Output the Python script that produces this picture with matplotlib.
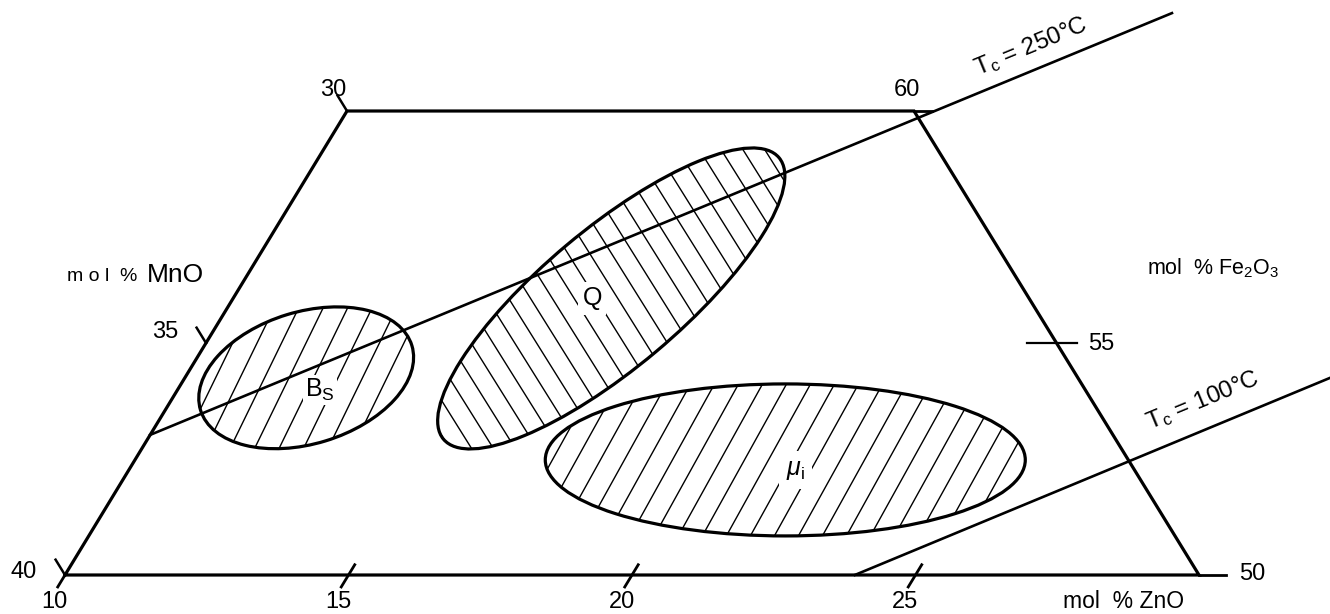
"""Mn-Zn ferrite composition diagram (Fe2O3 / MnO / ZnO)"""

import numpy as np
import matplotlib
matplotlib.use('Agg')
import matplotlib.pyplot as plt
from matplotlib.patches import Ellipse

plt.rcParams['font.family'] = ['Liberation Sans', 'DejaVu Sans']
plt.rcParams['mathtext.fontset'] = 'custom'
plt.rcParams['mathtext.rm'] = 'Liberation Sans'
plt.rcParams['mathtext.it'] = 'Liberation Sans:italic'

# --- data (mol %) ---
zno_ticks = [10, 15, 20, 25]
mno_ticks = [40, 35, 30]
fe_ticks = [50, 55, 60]

# frame corners as (ZnO, Fe2O3)
frame_zno = [10, 10, 20, 30, 10]
frame_fe = [50, 60, 60, 50, 50]

# iso-Curie lines
tc_labels = ['250', '100']
tc_zno_start = [10.0, 23.93]
tc_fe_start = [53.02, 50.0]
tc_zno_end = [23.50, 30.20]
tc_fe_end = [62.11, 54.25]

# optimum regions
region_labels = [r'B$_\mathrm{S}$', 'Q', r'$\mu_\mathrm{i}$']
region_zno = [12.14, 16.67, 21.47]
region_fe = [54.25, 55.96, 52.48]


# map composition -> figure pixels
X0, Y0 = 65.0, 575.0
SX, SXF, SY = 56.7, 28.2, 46.4
TICK_FS = 17


def to_xy(zno, fe):
    zno = np.asarray(zno, dtype=float)
    fe = np.asarray(fe, dtype=float)
    x = X0 + (zno - 10) * SX + (fe - 50) * SXF
    y = Y0 - (fe - 50) * SY
    return x, y


def unit(v):
    v = np.asarray(v, dtype=float)
    return v / np.hypot(*v)


ZNO_DIR = unit((SXF, -SY))          # constant ZnO, pointing up
MNO_DIR = unit((-(SX - SXF), -SY))  # constant MnO, pointing up-left


def hatched_ellipse(ax, cx, cy, w, h, angle, hatch_angle, spacing):
    ell = Ellipse((cx, cy), w, h, angle=-angle, fill=False,
                  edgecolor='black', linewidth=2.3, zorder=3)
    ax.add_patch(ell)
    r = max(w, h) / 2 + 5
    phi = np.radians(hatch_angle)
    d = np.array([np.cos(phi), -np.sin(phi)])
    n = np.array([np.sin(phi), np.cos(phi)])
    kmax = int(r / spacing) + 1
    for k in range(-kmax, kmax + 1):
        p = np.array([cx, cy]) + (k + 0.3) * spacing * n
        ln, = ax.plot([p[0] - r * d[0], p[0] + r * d[0]],
                      [p[1] - r * d[1], p[1] + r * d[1]],
                      color='black', linewidth=1.0, zorder=2)
        ln.set_clip_path(ell)


fig = plt.figure(figsize=(13.3, 6.14), dpi=100)
ax = fig.add_axes([0, 0, 1, 1])
ax.set_xlim(0, 1330)
ax.set_ylim(614, 0)
ax.axis('off')

# frame
fx, fy = to_xy(frame_zno, frame_fe)
ax.plot(fx, fy, color='black', linewidth=2.3, solid_joinstyle='miter', zorder=3)

# ZnO ticks along bottom
for z in zno_ticks:
    x, y = to_xy(z, 50)
    up = 0 if z == 10 else 12
    ax.plot([x - 14 * ZNO_DIR[0], x + up * ZNO_DIR[0]],
            [y - 14 * ZNO_DIR[1], y + up * ZNO_DIR[1]],
            color='black', linewidth=2.0)
    ax.text(x - 14 * ZNO_DIR[0] - 3, y + 16, str(z), ha='center', va='top',
            fontsize=TICK_FS)

# MnO ticks along left edge
for m in mno_ticks:
    fe = 90 - m
    x, y = to_xy(10, fe)
    L = 18
    ax.plot([x, x + L * MNO_DIR[0]], [y, y + L * MNO_DIR[1]],
            color='black', linewidth=1.8)
    if m == 40:
        ax.text(x - 28, y - 3, str(m), ha='right', va='center', fontsize=TICK_FS)
    elif m == 30:
        ax.text(x - 14, y - 21, str(m), ha='center', va='center', fontsize=TICK_FS)
    else:
        ax.text(x - 28, y - 11, str(m), ha='right', va='center', fontsize=TICK_FS)

# Fe2O3 ticks along right edge (MnO = 20)
for f in fe_ticks:
    x, y = to_xy(80 - f, f)
    if f == 55:
        ax.plot([x - 30, x + 20], [y, y], color='black', linewidth=1.6)
        ax.text(x + 32, y + 1, str(f), ha='left', va='center', fontsize=TICK_FS)
    elif f == 50:
        ax.plot([x, x + 27], [y, y], color='black', linewidth=2.0)
        ax.text(x + 40, y - 1, str(f), ha='left', va='center', fontsize=TICK_FS)
    else:
        ax.plot([x, x + 18], [y, y], color='black', linewidth=2.0)
        ax.text(x - 7, y - 21, str(f), ha='center', va='center', fontsize=TICK_FS)

# iso-Curie lines
for lab, z0, f0, z1, f1 in zip(tc_labels, tc_zno_start, tc_fe_start,
                               tc_zno_end, tc_fe_end):
    (x0, x1), (y0, y1) = to_xy([z0, z1], [f0, f1])
    ax.plot([x0, x1], [y0, y1], color='black', linewidth=1.9, zorder=3)
    ang = np.degrees(np.arctan2(-(y1 - y0), x1 - x0))
    if lab == '250':
        tx, ty = 978, 76
    else:
        tx, ty = 1150, 430
    ax.text(tx, ty, r'T$_\mathrm{c}$ = ' + lab + '°C', rotation=ang,
            rotation_mode='anchor', ha='left', va='baseline', fontsize=17.5)

# hatched regions
rx, ry = to_xy(region_zno, region_fe)
shapes = [(221, 132, 17, 64, 22.0),
          (438, 139, 40, 122, 18.5),
          (480, 152, 0, 61, 21.0)]
for (cx, cy), (w, h, a, ha_, sp) in zip(zip(rx, ry), shapes):
    hatched_ellipse(ax, cx, cy, w, h, a, ha_, sp)

offsets = [(14, 12), (-19, 0), (10, 10)]
pads = [0.15, 0.3, 0.5]
for lab, (cx, cy), (dx, dy), pad in zip(region_labels, zip(rx, ry), offsets, pads):
    ax.text(cx + dx, cy + dy, lab, ha='center', va='center', fontsize=18,
            zorder=4, bbox=dict(facecolor='white', edgecolor='none', pad=pad * 10))

# axis titles
ax.text(67, 281, 'm o l', ha='left', va='baseline', fontsize=14)
ax.text(119, 281, '%', ha='left', va='baseline', fontsize=14)
ax.text(147, 282, 'MnO', ha='left', va='baseline', fontsize=19)
ax.text(1147, 268, r'mol  % Fe$_2$O$_3$', ha='left', va='center', fontsize=15.5)
ax.text(1063, 608, 'mol  % ZnO', ha='left', va='baseline', fontsize=16.5)

fig.savefig('out.png', dpi=100, facecolor='white')
plt.close(fig)
